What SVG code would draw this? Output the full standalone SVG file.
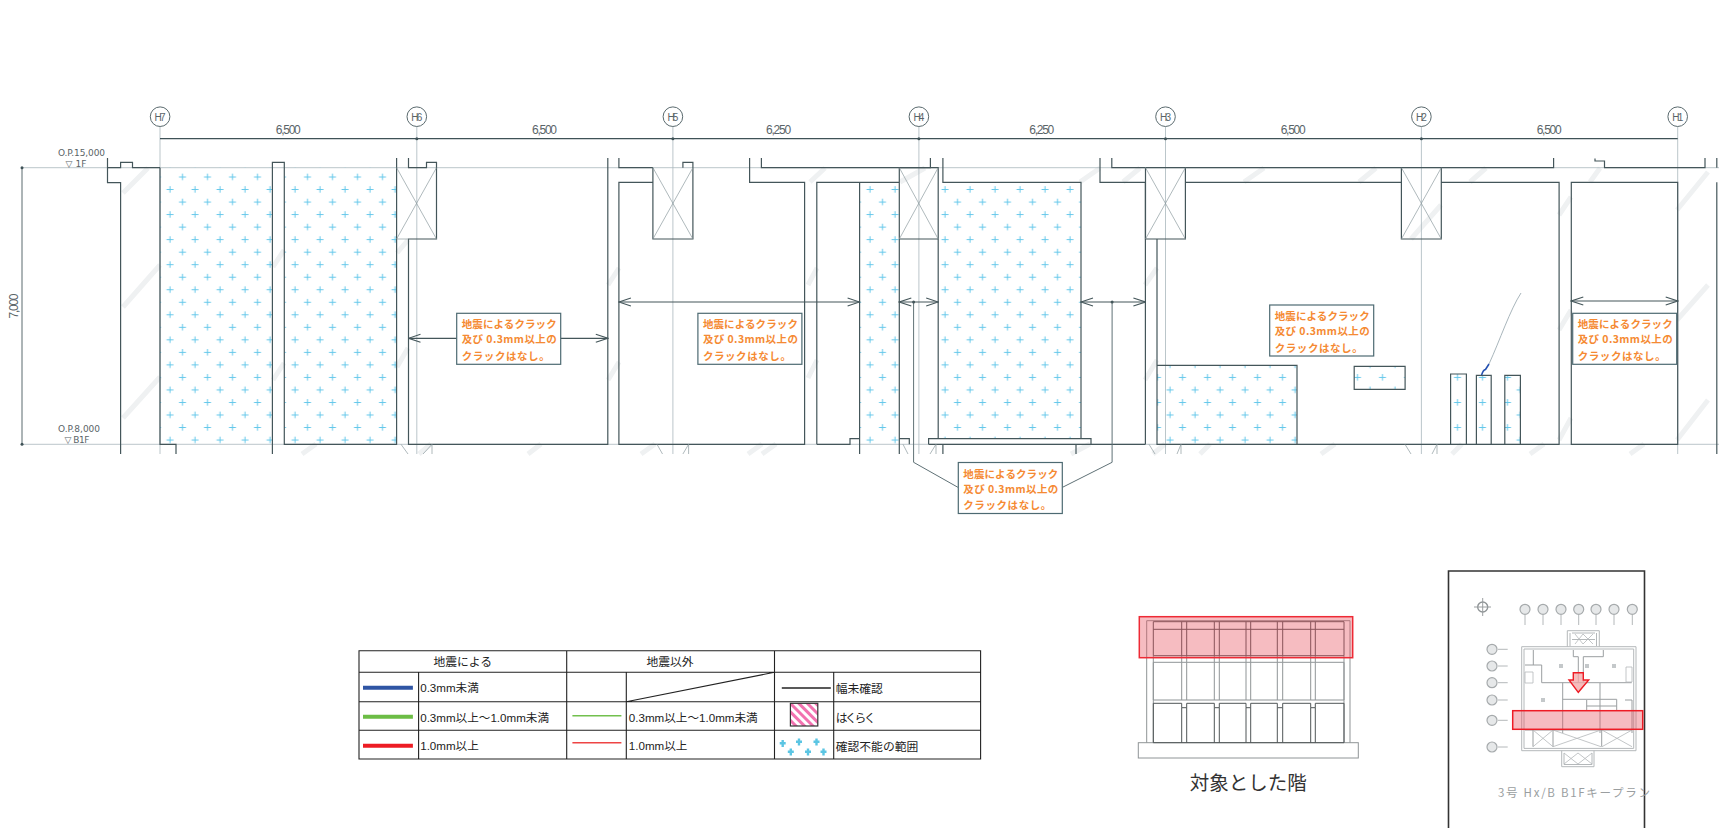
<svg xmlns="http://www.w3.org/2000/svg" width="1719" height="828" viewBox="0 0 1719 828">
<style>
.w{fill:none;stroke:#44565a;stroke-width:1.2}
.g{fill:none;stroke:#a9b8bd;stroke-width:.8}
.t{fill:none;stroke:#8d9b9f;stroke-width:.7}
.s{fill:none;stroke:#eff1f2;stroke-width:5}
.dim{font-family:"Liberation Sans",sans-serif;font-size:12px;fill:#5a6468;text-anchor:middle}
.lv{font-family:"DejaVu Sans",sans-serif;font-size:9px;fill:#5a6468;text-anchor:middle}
.gl{font-family:"Liberation Sans",sans-serif;font-size:10px;fill:#5a6468;text-anchor:middle}
.o{font-family:"Noto Sans CJK JP",sans-serif;font-size:10.5px;font-weight:700;fill:#f58a33}
.lg{font-family:"Liberation Sans","Noto Sans CJK JP",sans-serif;font-size:11.6px;fill:#222}
.lh{font-family:"Noto Sans CJK JP",sans-serif;font-size:11.8px;fill:#222}
.b{fill:none;stroke:#4f5557;stroke-width:1}
.bg{fill:none;stroke:#8f9496;stroke-width:1}
.k{fill:none;stroke:#b4b8ba;stroke-width:1}
.kc{fill:#e6e8e9;stroke:#a6aaac;stroke-width:1.2}
.cb{fill:#fff;stroke:#4d6a72;stroke-width:1.2}
</style>
<defs>
<pattern id="plus" patternUnits="userSpaceOnUse" x="163.75" y="170.75" width="25" height="25.05">
<path d="M15.25 6.25h7M18.75 3v6.5M2.75 18.75h7M6.25 15.5v6.5" fill="none" stroke="#63c7ea" stroke-width="1"/>
</pattern>
<pattern id="pink" patternUnits="userSpaceOnUse" width="6" height="6" patternTransform="rotate(-45)">
<rect width="3" height="6" fill="#f272b0"/>
</pattern>
<marker id="ah" markerUnits="userSpaceOnUse" markerWidth="14" markerHeight="10" refX="13" refY="5" orient="auto-start-reverse">
<path d="M1 1L13 5L1 9" fill="none" stroke="#44565a" stroke-width="1.1"/>
</marker>
<g id="cbox">
<rect class="cb" width="104" height="51"/>
<text class="o" x="5" y="15" textLength="95">地震によるクラック</text>
<text class="o" x="5" y="30" textLength="95">及び 0.3mm以上の</text>
<text class="o" x="5" y="46.5" textLength="88">クラックはなし。</text>
</g>
</defs>

<g id="stripes">
<path class="s" d="M123 193L148 168M123 307L160 265M123 418L160 377M273 267L284 250M273 380L284 363M397 253L408 240M397 367L408 348M302 454L316 444M419 454L431 444M528 454L541 444M608 285L619 268M608 380L619 362M641 454L655 444M748 454L762 444M762 454L776 444M808 285L817 268M808 378L817 360M810 182L825 168M900 182L925 168M1080 182L1100 168M1123 182L1140 168M1145 285L1157 268M1145 380L1157 360M1244 182L1264 168M1359 182L1376 168M1470 182L1486 168M1559 215L1571 197M1559 330L1571 310M1559 440L1571 418M1590 182L1600 168M1677 210L1708 172M1677 320L1708 285M1677 440L1708 400M1200 454L1210 444M1321 454L1335 444M1452 454L1462 444M1530 454L1544 444M1630 454L1644 444M1411 239L1441 205M1153 454L1165 444M1071 454L1090 444"/>
</g>

<g id="grid">
<path class="g" d="M22 167.7H1719M22 444.3H1719"/>
<path class="g" d="M160 127V454M416.8 127V454M672.9 127V454M918.9 127V454M1165.5 127V454M1421.4 127V454M1677.7 127V454"/>
<path d="M160 138.7H1677.7" fill="none" stroke="#3f5257" stroke-width="1.3"/>
<path d="M22 167.7V444.3" fill="none" stroke="#5a6a6e" stroke-width="1"/>
<g fill="#3f5257"><circle cx="22" cy="167.7" r="1.5"/><circle cx="22" cy="444.3" r="1.5"/><circle cx="416.8" cy="138.7" r="1.5"/><circle cx="672.9" cy="138.7" r="1.5"/><circle cx="918.9" cy="138.7" r="1.5"/><circle cx="1165.5" cy="138.7" r="1.5"/><circle cx="1421.4" cy="138.7" r="1.5"/></g>
<g fill="#fff" stroke="#5a6a6e" stroke-width="1">
<circle cx="160.1" cy="116.7" r="9.8"/><circle cx="416.8" cy="116.7" r="9.8"/><circle cx="672.9" cy="116.7" r="9.8"/><circle cx="918.9" cy="116.7" r="9.8"/><circle cx="1165.5" cy="116.7" r="9.8"/><circle cx="1421.4" cy="116.7" r="9.8"/><circle cx="1677.7" cy="116.7" r="9.8"/>
</g>
<text class="gl" x="160.1" y="120.5" textLength="11">H7</text>
<text class="gl" x="416.8" y="120.5" textLength="11">H6</text>
<text class="gl" x="672.9" y="120.5" textLength="11">H5</text>
<text class="gl" x="918.9" y="120.5" textLength="11">H4</text>
<text class="gl" x="1165.5" y="120.5" textLength="11">H3</text>
<text class="gl" x="1421.4" y="120.5" textLength="11">H2</text>
<text class="gl" x="1677.7" y="120.5" textLength="11">H1</text>
<text class="dim" x="288.3" y="134" textLength="25">6,500</text>
<text class="dim" x="544.5" y="134" textLength="25">6,500</text>
<text class="dim" x="778.6" y="134" textLength="25">6,250</text>
<text class="dim" x="1041.8" y="134" textLength="25">6,250</text>
<text class="dim" x="1293.2" y="134" textLength="25">6,500</text>
<text class="dim" x="1549.2" y="134" textLength="25">6,500</text>
<text class="dim" transform="translate(18 306) rotate(-90)" textLength="25">7,000</text>
<text class="lv" x="81.5" y="156" textLength="47">O.P.15,000</text>
<text class="lv" x="76" y="166.5" textLength="21">▽ 1F</text>
<text class="lv" x="79" y="432" textLength="42">O.P.8,000</text>
<text class="lv" x="77" y="442.5" textLength="25">▽ B1F</text>
</g>

<g id="hatch-areas" fill="url(#plus)">
<rect x="160" y="167.7" width="112.4" height="276.6"/>
<rect x="284.3" y="167.7" width="112.3" height="276.6"/>
<rect x="859.6" y="182.3" width="39.7" height="262"/>
<rect x="938.2" y="182.3" width="142.8" height="256.4"/>
<rect x="1157" y="365.3" width="140" height="79"/>
<rect x="1354.2" y="366.3" width="50.9" height="23"/>
<rect x="1450.6" y="374" width="15.8" height="70.3"/>
<rect x="1476.4" y="375.3" width="14.8" height="69"/>
<rect x="1504.8" y="375.3" width="15.6" height="69"/>
</g>

<g id="walls">
<path class="w" d="M107.5 158V182.7H120.6V454M107.5 167.7H120.6V162.3H132.5V167.7H160M160 167.7V444.3H176V454"/>
<path class="w" d="M272.4 454V162.3H284.3V444.3H396.6V158"/>
<path class="w" d="M408.5 158V167.7H426.5V162.3H436.5V239H408.5V444.3H607.8V158"/>
<path class="w" d="M618.9 158V167.7H652.9M682.9 167.7V162.3H692.9V239H652.9V167.7M652.9 182.3H618.9V444.3H804.6V182.3H749.6V158"/>
<path class="w" d="M761.4 158V167.7H930.4V158"/>
<path class="w" d="M816.8 444.3V182.3H899.3M816.8 444.3H850V438.7H859.6V454M859.6 182.3V454M899.3 167.7V454M899.3 167.7H938.2V239H899.3M899.3 438.7H909.3V444.3M928.6 444.3V438.7H938.2M938.2 239V438.7H1081M928.6 444.3H1145.4M942.9 158V182.3H1081V438.7H1091V444.3M942.9 444.3V454M1076 444.3V454"/>
<path class="w" d="M1100 158V182.3H1145.4V444.3M1111.8 158V167.7H1145.4"/>
<path class="w" d="M1145.5 167.7H1185.4V239H1145.5V167.7M1157 239V444.3H1559.1V182.3H1441.3M1185.4 167.7H1553.6V158M1185.4 182.3H1401.4M1401.4 167.7V239H1441.3V167.7"/>
<path class="w" d="M1595 158.5V161H1604.5V167.7H1705V158M1716.8 158V167.7M1716.8 182.3V454"/>
<path class="w" d="M1571.3 182.3H1677.7V444.3H1571.3Z"/>
<path class="w" d="M1157 365.3H1297V444.3M1354.2 366.3H1405.1V389.3H1354.2Z"/>
<path class="w" d="M1450.6 444.3V374H1466.4V444.3M1476.4 444.3V375.3H1491.2V444.3M1504.8 444.3V375.3H1520.4V444.3"/>
<path class="t" d="M396.6 167.7L436.5 239M436.5 167.7L396.6 239M396.6 239H408.5M652.9 167.7L692.9 239M692.9 167.7L652.9 239M899.3 167.7L938.2 239M938.2 167.7L899.3 239M1145.5 167.7L1185.4 239M1185.4 167.7L1145.5 239M1401.4 167.7L1441.3 239M1441.3 167.7L1401.4 239"/>
<path class="t" d="M401 444.3L408 454M432 444.3V454M423 454L432 444.3M657 444.3L662.5 454M682.9 454L688.6 444.3V454M903 444.3L908 454M930 454L936 444.3V454M1149 444.3L1155 454M1177 454L1181 444.3V454M1405 444.3L1411 454M1432 454L1437 444.3V454"/>
</g>

<g id="connectors">
<path class="w" marker-start="url(#ah)" marker-end="url(#ah)" d="M408.5 338.3H607.8"/>
<path class="w" marker-start="url(#ah)" marker-end="url(#ah)" d="M618.9 302H859.6"/>
<path class="w" marker-start="url(#ah)" marker-end="url(#ah)" d="M899.3 302H938.2"/>
<path class="w" marker-start="url(#ah)" marker-end="url(#ah)" d="M1081 302H1145.4"/>
<path class="w" marker-start="url(#ah)" marker-end="url(#ah)" d="M1571.3 301H1677.7"/>
<path d="M913.6 302V462.3L957.9 487.3M1112.1 302V462.3L1062.5 487.3" fill="none" stroke="#5f7176" stroke-width="1"/>
<circle cx="913.6" cy="302" r="1.5" fill="#44565a"/><circle cx="1112.1" cy="302" r="1.5" fill="#44565a"/>
<path d="M1489 364C1500 340 1510 310 1521 293" fill="none" stroke="#a9b6bc" stroke-width="1"/>
<path d="M1481.6 375Q1483 370 1485.5 369.5L1489 364" fill="none" stroke="#2450b0" stroke-width="1.6"/>
</g>

<g id="callout-1"><use href="#cbox" x="456.7" y="313.3"/></g>
<g id="callout-2"><use href="#cbox" x="697.9" y="313.3"/></g>
<g id="callout-3"><use href="#cbox" x="958.3" y="462.5"/></g>
<g id="callout-4"><use href="#cbox" x="1269.7" y="305"/></g>
<g id="callout-5"><use href="#cbox" x="1572.7" y="313.3"/></g>

<g id="legend">
<path d="M359 650.7H980.6V759H359ZM359 672.3H980.6M359 701.7H980.6M359 730.3H980.6M566.7 650.7V759M774.5 650.7V759M418.6 672.3V759M626.3 672.3V759M833.7 672.3V759M626.3 701.7L774.5 672.3" fill="none" stroke="#222" stroke-width="1.1"/>
<path d="M363 687.7H412.9" stroke="#2f55a4" stroke-width="4"/>
<path d="M363 716.7H412.9" stroke="#6cbd45" stroke-width="4"/>
<path d="M363 745.7H412.9" stroke="#ed1c24" stroke-width="4"/>
<path d="M572.4 715.7H621.4" stroke="#72c04e" stroke-width="1.5"/>
<path d="M572.4 742.7H621.4" stroke="#ee4444" stroke-width="1.5"/>
<path d="M781.8 688H830.8" stroke="#222" stroke-width="1.3"/>
<rect x="790.4" y="703.3" width="27.4" height="22.7" fill="#fff"/>
<rect x="790.4" y="703.3" width="27.4" height="22.7" fill="url(#pink)" stroke="#333" stroke-width="1.2"/>
<path d="M779.7 743.3h6M782.7 740v7M796 741.7h6M799 738.5v7M813.5 741.7h6M816.5 738.5v7M787.8 751.7h6M790.8 748.5v7M805 751.7h6M808 748.5v7M820.5 751.7h6M823.5 748.5v7" fill="none" stroke="#5bc5e3" stroke-width="2.4"/>
<text class="lh" x="462.7" y="666" text-anchor="middle">地震による</text>
<text class="lh" x="670" y="666" text-anchor="middle">地震以外</text>
<text class="lg" x="420.2" y="692">0.3mm未満</text>
<text class="lg" x="420.2" y="721.5">0.3mm以上～1.0mm未満</text>
<text class="lg" x="420.2" y="750">1.0mm以上</text>
<text class="lg" x="628.8" y="721.5">0.3mm以上～1.0mm未満</text>
<text class="lg" x="628.8" y="750">1.0mm以上</text>
<text class="lh" x="835.7" y="693">幅未確認</text>
<text class="lh" x="835.7" y="722" textLength="40">はくらく</text>
<text class="lh" x="835.7" y="751">確認不能の範囲</text>
</g>

<g id="building">
<rect class="bg" x="1138.3" y="742.7" width="220" height="15.3"/>
<path class="bg" d="M1146.7 620.7V742.7M1350 620.7V742.7M1146.7 620.7H1350"/>
<path class="bg" d="M1153.3 662.3H1344V700H1153.3ZM1181.7 662.3V700M1186.7 662.3V700M1214.3 662.3V700M1219.3 662.3V700M1246 662.3V700M1250.7 662.3V700M1277.3 662.3V700M1282.7 662.3V700M1310.7 662.3V700M1315.3 662.3V700"/>
<path class="bg" d="M1153.3 655.7V742.7M1344 655.7V742.7M1181.7 655.7V662M1186.7 655.7V662M1214.3 655.7V662M1219.3 655.7V662M1246 655.7V662M1250.7 655.7V662M1277.3 655.7V662M1282.7 655.7V662M1310.7 655.7V662M1315.3 655.7V662"/>
<path class="b" d="M1153.3 621.7H1344V655.7H1153.3ZM1153.3 629.3H1344M1181.7 621.7V655.7M1186.7 621.7V655.7M1214.3 621.7V655.7M1219.3 621.7V655.7M1246 621.7V655.7M1250.7 621.7V655.7M1277.3 621.7V655.7M1282.7 621.7V655.7M1310.7 621.7V655.7M1315.3 621.7V655.7"/>
<path class="b" d="M1153.3 742.7V703.3H1181.7V707.7H1186.7V703.3H1214.3V707.7H1219.3V703.3H1246V707.7H1250.7V703.3H1277.3V707.7H1282.7V703.3H1310.7V707.7H1315.3V703.3H1344V742.7H1153.3M1181.7 707.7V742.7M1186.7 707.7V742.7M1214.3 707.7V742.7M1219.3 707.7V742.7M1246 707.7V742.7M1250.7 707.7V742.7M1277.3 707.7V742.7M1282.7 707.7V742.7M1310.7 707.7V742.7M1315.3 707.7V742.7"/>
<rect x="1139.3" y="616.7" width="213.4" height="41" fill="#e8505b" fill-opacity=".38" stroke="#ee2a35" stroke-width="1.5"/>
<text x="1248.3" y="789.5" text-anchor="middle" font-family="'Noto Sans CJK JP',sans-serif" font-size="19.5" fill="#333">対象とした階</text>
</g>

<g id="key-plan">
<path d="M1448.5 840V571H1644.5V840" fill="none" stroke="#333" stroke-width="1.6"/>
<path class="k" d="M1525 615V625M1543 615V625M1561 615V625M1578.7 615V625M1596 615V625M1614 615V625M1632.3 615V625M1498 649.3H1507.7M1498 666H1507.7M1498 682.7H1507.7M1498 700H1507.7M1498 720.3H1507.7M1498 747H1507.7"/>
<g class="kc">
<circle cx="1525" cy="609.3" r="5"/><circle cx="1543" cy="609.3" r="5"/><circle cx="1561" cy="609.3" r="5"/><circle cx="1578.7" cy="609.3" r="5"/><circle cx="1596" cy="609.3" r="5"/><circle cx="1614" cy="609.3" r="5"/><circle cx="1632.3" cy="609.3" r="5"/>
<circle cx="1492" cy="649.3" r="5"/><circle cx="1492" cy="666" r="5"/><circle cx="1492" cy="682.7" r="5"/><circle cx="1492" cy="700" r="5"/><circle cx="1492" cy="720.3" r="5"/><circle cx="1492" cy="747" r="5"/>
</g>
<circle cx="1482.7" cy="607" r="5" fill="none" stroke="#8f9496" stroke-width="1.4"/>
<path d="M1482.7 598V616M1474 607H1491" stroke="#9a9ea0" fill="none"/>
<path class="k" d="M1521.7 646.7H1636V750.7H1521.7ZM1524 649H1633.7V748.4H1524ZM1567.3 646.7V630.7H1599.3V646.7M1561.7 750.7V766.7H1594V750.7M1570 633V646M1596.5 633V646M1564 753V764.5H1592V753M1572 633H1595M1572 639.5H1595"/>
<path d="M1564 753L1578 764M1578 753L1564 764M1578 753L1592 764M1592 753L1578 764M1575 634L1583 644M1583 634L1575 644M1583 634L1593 644M1593 634L1583 644" fill="none" stroke="#b4b8ba" stroke-width=".8"/>
<path d="M1525 665H1541.7V682.7H1631.7M1533.3 650V665M1573.3 650V656.7H1578.3V682.7M1583.3 682.7V656.7H1603.3V650M1562.7 682.7V733M1562.7 699.3H1616.7V710M1586.7 700V710M1586.7 706H1616.7M1600 683V733M1625 700H1632V733M1525 730H1632M1533 730V746.7M1553 730V746.7M1601.7 730V746.7" fill="none" stroke="#9a9ea0" stroke-width="1"/>
<path d="M1533 730L1553 746.7M1553 730L1533 746.7M1553 730L1601 746.7M1601 730L1553 746.7M1602 730L1632 746.7M1632 730L1602 746.7M1525 672H1533V683H1525ZM1626 667H1632V682H1626Z" fill="none" stroke="#b4b8ba" stroke-width=".8"/>
<g fill="#c4c8ca"><rect x="1559" y="664" width="4" height="4"/><rect x="1585" y="664" width="4" height="4"/><rect x="1612" y="664" width="4" height="4"/><rect x="1541" y="698" width="4" height="4"/></g>
<rect x="1512.7" y="710.7" width="130" height="18.6" fill="#e8505b" fill-opacity=".38" stroke="#ee1c25" stroke-width="1.5"/>
<path d="M1573.3 672.7H1583.3V680H1588.7L1578.3 692.3L1569 680H1573.3Z" fill="#f4a6a6" fill-opacity=".75" stroke="#ee1c25" stroke-width="1.4"/>
<text x="1574" y="796.5" text-anchor="middle" font-family="'Noto Sans CJK JP',sans-serif" font-size="11.5" fill="#9a9ea0" textLength="152">3号 Hx/B B1Fキープラン</text>
</g>
</svg>
